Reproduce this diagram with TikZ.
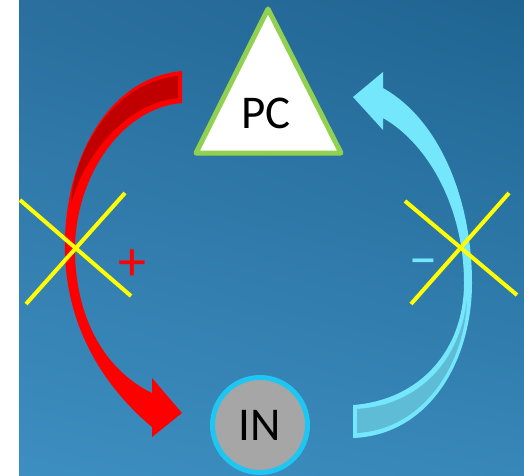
\documentclass[tikz,border=0pt]{standalone}
\usepackage{fontspec}
\setmainfont{Carlito}
\usepackage{tikz}
\usetikzlibrary{shadings}
\usepackage{xcolor}
\definecolor{BgTopLeft}{HTML}{2A6F9E}
\definecolor{BgTopRight}{HTML}{1F6491}
\definecolor{BgLowLeft}{HTML}{3D8EC1}
\definecolor{BgLowRight}{HTML}{3787B8}
\definecolor{LeafGreen}{HTML}{92D050}
\definecolor{RingCyan}{HTML}{1FC6F2}
\definecolor{CoreGray}{HTML}{A6A6A6}
\definecolor{PlusRed}{HTML}{FF0000}
\definecolor{BackRed}{HTML}{C00000}
\definecolor{MinusCyan}{HTML}{74E7FC}
\definecolor{BackCyan}{HTML}{5EBCD6}
\definecolor{CrossYellow}{HTML}{FFFF00}
\newcommand\nodepc{PC}
\newcommand\nodein{IN}
\tikzstyle{bigtext} = [font=\fontsize{47}{47}\selectfont, text=black, inner sep=0pt]
\tikzstyle{innode} = [bigtext, circle, minimum size=95pt, draw=RingCyan, line width=5pt, fill=CoreGray]
\tikzstyle{cross} = [draw=CrossYellow, line width=4pt]
\tikzstyle{signtext} = [font=\fontsize{56}{56}\selectfont, inner sep=0pt]

\begin{document}
\begin{tikzpicture}[x=1pt, y=-1pt]
\useasboundingbox (0,0) rectangle (524,475);
\fill[white] (0,0) rectangle (524,475);
\shade[upper left=BgTopLeft, upper right=BgTopRight, lower left=BgLowLeft, lower right=BgLowRight] (19,0) rectangle (524,475);
% triangle
\coordinate (top) at (268,9);
\coordinate (bl) at (196,153);
\coordinate (br) at (341,153);
\filldraw[fill=white, draw=LeafGreen, line width=5pt, line join=round] (top) -- (bl) -- (br) -- cycle;
\node[bigtext] (pc) at (266,113) {\nodepc};
% circle
\node[innode] (in) at (260,425) {\nodein};
% red arrow
\fill[PlusRed] (182,71) .. controls (105,78) and (62,165) .. (65,255)
  .. controls (68,335) and (110,392) .. (152,427) -- (152,437) -- (182,413) -- (152,378) -- (152,393)
  .. controls (105,370) and (77,320) .. (75,255) .. controls (73,180) and (120,108) .. (182,103) -- cycle;
\fill[BackRed] (178,76) .. controls (108,83) and (72,160) .. (71,205)
  .. controls (80,165) and (120,104) .. (178,98) -- cycle;
% cyan arrow
\fill[MinusCyan] (353,438) .. controls (430,435) and (472,360) .. (472,283)
  .. controls (472,200) and (440,120) .. (383,88) -- (383,72) -- (353,97) -- (383,130) -- (383,118)
  .. controls (430,145) and (464,210) .. (464,283) .. controls (464,350) and (420,400) .. (353,405) -- cycle;
\fill[BackCyan] (357,433) .. controls (425,429) and (465,362) .. (467,300)
  .. controls (460,360) and (420,405) .. (357,409) -- cycle;
% crosses
\draw[cross] (20,200) -- (131,296);
\draw[cross] (125,193) -- (26,304);
\draw[cross] (405,201) -- (517,295);
\draw[cross] (509,193) -- (411,304);
% signs
\node[signtext, text=PlusRed] (plus) at (132,265) {+};
\node[signtext, text=MinusCyan] (minus) at (423,269) {−};
\end{tikzpicture}
\end{document}
